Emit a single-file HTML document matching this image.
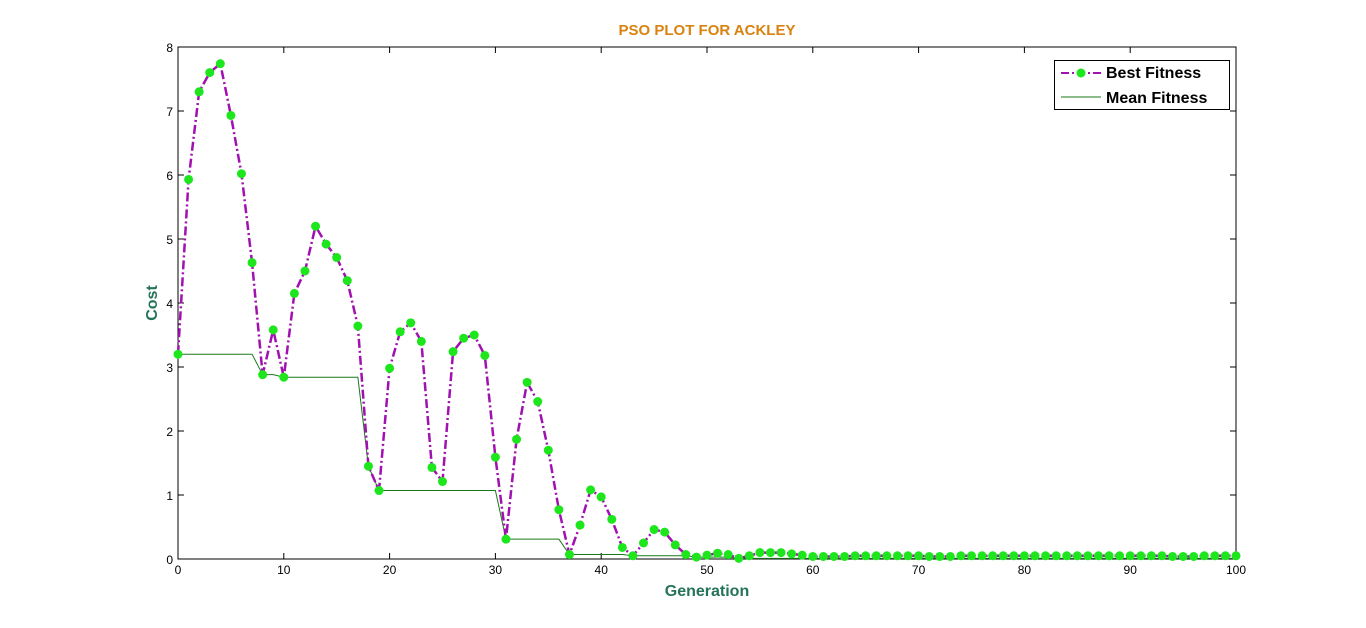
<!DOCTYPE html>
<html><head><meta charset="utf-8"><style>
html,body{margin:0;padding:0;background:#fff;}
svg{display:block;font-family:"Liberation Sans",Arial,sans-serif;}
</style></head><body>
<svg id="chart" width="1366" height="628" viewBox="0 0 1366 628" xmlns="http://www.w3.org/2000/svg">
<rect width="1366" height="628" fill="#fff"/>
<text x="707" y="35" text-anchor="middle" font-size="15" font-weight="bold" fill="#d9820f">PSO PLOT FOR ACKLEY</text>
<rect x="178" y="47" width="1058" height="512" fill="#fff" stroke="#000" stroke-width="1"/>
<g id="ticks"></g>
<g id="series"></g>
<text x="707" y="596" text-anchor="middle" font-size="16" font-weight="bold" fill="#24735a">Generation</text>
<text x="0" y="0" transform="translate(157,303) rotate(-90)" text-anchor="middle" font-size="16" font-weight="bold" fill="#24735a">Cost</text>
<g>
<rect x="1054.5" y="60.5" width="175" height="49" fill="#fff" stroke="#000"/>
<g>
<line x1="1061" y1="73" x2="1101" y2="73" stroke="#a011b0" stroke-width="2" stroke-dasharray="8,3,2,3"/>
<circle cx="1081" cy="73" r="4.5" fill="#1de61d"/>
<text x="1106" y="78" font-size="16" font-weight="bold" fill="#000">Best Fitness</text>
</g>
<g>
<line x1="1061" y1="97" x2="1101" y2="97" stroke="#1a7a1a" stroke-width="1"/>
<text x="1106" y="103" font-size="16" font-weight="bold" fill="#000">Mean Fitness</text>
</g>
</g>
</svg>
<script>
const generations = Array.from({length:101},(_, i)=>i);
const bestFitness = [3.2,5.93,7.3,7.6,7.74,6.93,6.02,4.63,2.88,3.58,2.84,4.15,4.5,5.2,4.92,4.71,4.35,3.64,1.45,1.07,
2.98,3.55,3.69,3.4,1.43,1.21,3.24,3.45,3.5,3.18,1.59,0.31,1.87,2.76,2.46,1.7,0.77,0.07,0.53,1.08,
0.97,0.62,0.18,0.05,0.25,0.46,0.42,0.22,0.07,0.03,0.06,0.09,0.07,0.01,0.05,0.1,0.1,0.1,0.08,0.06,
0.04,0.04,0.04,0.04,0.05,0.05,0.05,0.05,0.05,0.05,0.05,0.04,0.04,0.04,0.05,0.05,0.05,0.05,0.05,0.05,
0.05,0.05,0.05,0.05,0.05,0.05,0.05,0.05,0.05,0.05,0.05,0.05,0.05,0.05,0.04,0.04,0.04,0.05,0.05,0.05,0.05];
const meanFitness = [3.2,3.2,3.2,3.2,3.2,3.2,3.2,3.2,2.88,2.88,2.84,2.84,2.84,2.84,2.84,2.84,2.84,2.84,1.45,1.07,
1.07,1.07,1.07,1.07,1.07,1.07,1.07,1.07,1.07,1.07,1.07,0.31,0.31,0.31,0.31,0.31,0.31,0.07,0.07,0.07,
0.07,0.07,0.07,0.05,0.05,0.05,0.05,0.05,0.05,0.03,0.03,0.03,0.03,0.01,0.01,0.01,0.01,0.01,0.01,0.01,
0.01,0.01,0.01,0.01,0.01,0.01,0.01,0.01,0.01,0.01,0.01,0.01,0.01,0.01,0.01,0.01,0.01,0.01,0.01,0.01,
0.01,0.01,0.01,0.01,0.01,0.01,0.01,0.01,0.01,0.01,0.01,0.01,0.01,0.01,0.01,0.01,0.01,0.01,0.01,0.01,0.01];
const xTicks = [0,10,20,30,40,50,60,70,80,90,100];
const yTicks = [0,1,2,3,4,5,6,7,8];

const NS='http://www.w3.org/2000/svg';
const X0=178,X1=1236,Y0=559,Y1=47;
const xs=v=>X0+(v/100)*(X1-X0);
const ys=v=>Y0-(v/8)*(Y0-Y1);
function mk(tag,attrs,parent){const e=document.createElementNS(NS,tag);for(const k in attrs)e.setAttribute(k,attrs[k]);parent.appendChild(e);return e;}
const tg=document.getElementById('ticks');
xTicks.forEach(t=>{
  const x=xs(t);
  const l1=mk('line',{x1:x,y1:Y0,x2:x,y2:Y0-6,stroke:'#000'},tg);
  
  
  mk('line',{x1:x,y1:Y1,x2:x,y2:Y1+6,stroke:'#000'},tg);
  const tx=mk('text',{x:x,y:Y0+15,'text-anchor':'middle','font-size':12,fill:'#000'},tg);
  tx.textContent=t;
  
  
});
yTicks.forEach(t=>{
  const y=ys(t);
  const l1=mk('line',{x1:X0,y1:y,x2:X0+6,y2:y,stroke:'#000'},tg);
  
  
  mk('line',{x1:X1,y1:y,x2:X1-6,y2:y,stroke:'#000'},tg);
  const tx=mk('text',{x:X0-5,y:y+5,'text-anchor':'end','font-size':12,fill:'#000'},tg);
  tx.textContent=t;
  
  
});
const sg=document.getElementById('series');
const meanPts=generations.map((g,i)=>xs(g)+','+ys(meanFitness[i])).join(' ');
const ml=mk('polyline',{points:meanPts,fill:'none',stroke:'#1a7a1a','stroke-width':1},sg);


const bestPts=generations.map((g,i)=>xs(g)+','+ys(bestFitness[i])).join(' ');
const bl=mk('polyline',{points:bestPts,fill:'none',stroke:'#a011b0','stroke-width':2.5,'stroke-dasharray':'9,3,2,3'},sg);


generations.forEach((g,i)=>{
  const c=mk('circle',{cx:xs(g),cy:ys(bestFitness[i]),r:4.5,fill:'#1de61d'},sg);
  
  
});
</script>
</body></html>
